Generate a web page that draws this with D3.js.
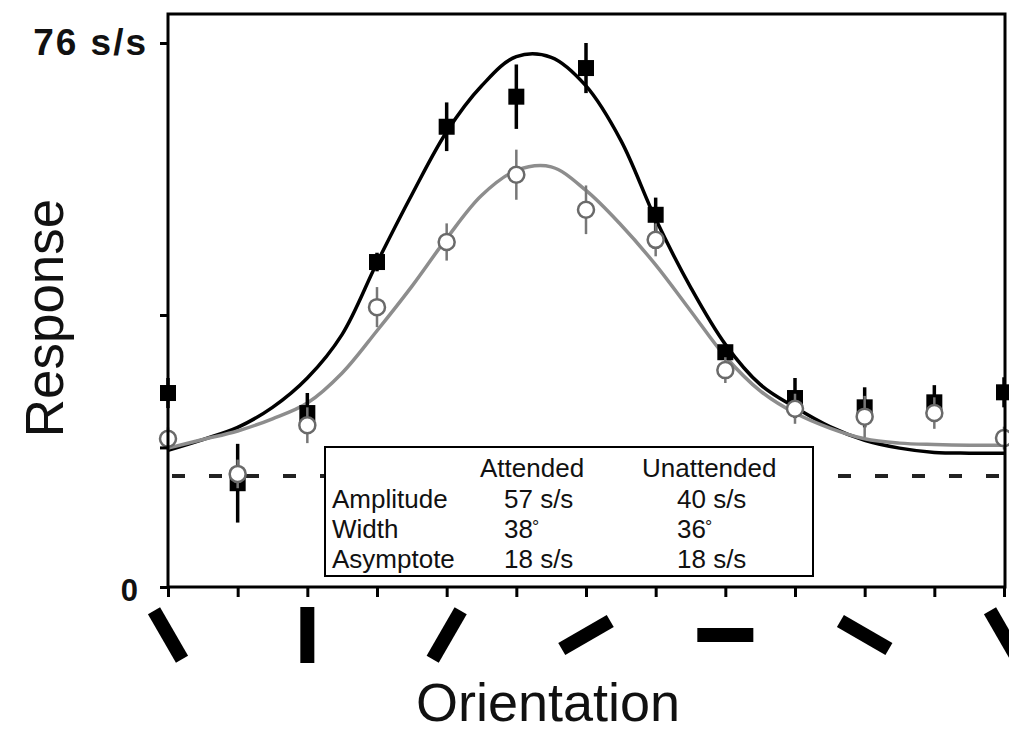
<!DOCTYPE html>
<html>
<head>
<meta charset="utf-8">
<script src="https://cdn.jsdelivr.net/npm/d3@7"></script>
<style>
  body { margin: 0; background: #fff; }
  text { font-family: 'Liberation Sans', Arial, sans-serif; fill: #111; }
</style>
</head>
<body>
<script>
// stimulus orientations (deg) and mean responses (spikes/s)
var orientations = [0, 15, 30, 45, 60, 75, 90, 105, 120, 135, 150, 165, 180];
var attended = [27.1, 14.5, 24.3, 45.4, 64.3, 68.5, 72.5, 52.0, 32.8, 26.4, 25.1, 25.8, 27.2];
var attendedErr = [2.1, 5.5, 2.8, 1.3, 3.4, 4.5, 3.5, 2.4, 1.0, 2.8, 2.8, 2.4, 2.1];
var unattended = [20.7, 15.8, 22.6, 39.1, 48.2, 57.6, 52.7, 48.5, 30.3, 24.9, 23.8, 24.3, 20.8];
var unattendedErr = [1.6, 2.0, 2.5, 2.8, 2.6, 3.5, 3.4, 2.3, 1.8, 2.1, 2.9, 2.2, 1.6];

// fitted tuning curves, every 7.5 deg
var fitOrientations = [0, 7.5, 15, 22.5, 30, 37.5, 45, 52.5, 60, 67.5, 75, 82.5, 90,
  97.5, 105, 112.5, 120, 127.5, 135, 142.5, 150, 157.5, 165, 172.5, 180];
var attendedFit = [19.1, 20.6, 22.3, 25.1, 29.2, 35.3, 45.3, 54.8, 63.6, 70.0, 74.1, 74.0, 70.0,
  62.4, 51.4, 41.9, 33.9, 28.3, 25.1, 22.4, 20.5, 19.4, 18.8, 18.7, 18.7];
var unattendedFit = [19.4, 20.6, 21.8, 23.5, 25.7, 29.9, 35.8, 42.0, 48.7, 54.7, 58.2, 58.7, 55.4,
  50.6, 45.0, 38.6, 32.2, 27.4, 24.3, 22.2, 20.7, 20.1, 19.9, 19.8, 19.8];

var spontaneous = 15.5;
var yTicks = [0, 19.5, 38, 76];
var stimulusBars = [0, 30, 60, 90, 120, 150, 180];

var legendRows = ['Amplitude', 'Width', 'Asymptote'];
var legendCols = ['Attended', 'Unattended'];
var attendedParams = ['57 s/s', '38', '18 s/s'];
var unattendedParams = ['40 s/s', '36', '18 s/s'];

var width = 1009, height = 734;

var svg = d3.select('body')
  .append('svg')
    .attr('width', width)
    .attr('height', height);

var x = d3.scaleLinear()
    .domain([0, 180])
    .range([168, 1004]);

var y = d3.scaleLinear()
    .domain([0, 76])
    .range([587, 43]);

// dashed spontaneous level (mostly hidden behind the legend box)
svg.append('line')
    .attr('x1', x(0) + 4)
    .attr('x2', x(180))
    .attr('y1', y(spontaneous))
    .attr('y2', y(spontaneous))
    .attr('stroke', '#222')
    .attr('stroke-width', 4)
    .attr('stroke-dasharray', '13,24');

// fitted curves
var line = d3.line()
    .x(function(d) { return x(d[0]); })
    .y(function(d) { return y(d[1]); })
    .curve(d3.curveCatmullRom);

svg.append('path')
    .datum(d3.zip(fitOrientations, attendedFit))
    .attr('d', line)
    .attr('fill', 'none')
    .attr('stroke', '#000')
    .attr('stroke-width', 3.5);

svg.append('path')
    .datum(d3.zip(fitOrientations, unattendedFit))
    .attr('d', line)
    .attr('fill', 'none')
    .attr('stroke', '#8d8d8d')
    .attr('stroke-width', 3.5);

// attended: filled squares
var att = svg.append('g')
  .selectAll('g')
  .data(d3.zip(orientations, attended, attendedErr))
  .enter().append('g');

att.append('line')
    .attr('x1', function(d) { return x(d[0]); })
    .attr('x2', function(d) { return x(d[0]); })
    .attr('y1', function(d) { return y(d[1] - d[2]); })
    .attr('y2', function(d) { return y(d[1] + d[2]); })
    .attr('stroke', '#000')
    .attr('stroke-width', 3.5);

att.append('rect')
    .attr('x', function(d) { return x(d[0]) - 8; })
    .attr('y', function(d) { return y(d[1]) - 8; })
    .attr('width', 16)
    .attr('height', 16)
    .attr('fill', '#000');

// unattended: open circles
var unatt = svg.append('g')
  .selectAll('g')
  .data(d3.zip(orientations, unattended, unattendedErr))
  .enter().append('g');

unatt.append('line')
    .attr('x1', function(d) { return x(d[0]); })
    .attr('x2', function(d) { return x(d[0]); })
    .attr('y1', function(d) { return y(d[1] - d[2]); })
    .attr('y2', function(d) { return y(d[1] + d[2]); })
    .attr('stroke', '#777')
    .attr('stroke-width', 2.5);

unatt.append('circle')
    .attr('cx', function(d) { return x(d[0]); })
    .attr('cy', function(d) { return y(d[1]); })
    .attr('r', 8)
    .attr('fill', '#fff')
    .attr('stroke', '#6a6a6a')
    .attr('stroke-width', 2.5);

// legend box
var legend = svg.append('g');

legend.append('rect')
    .attr('x', 325)
    .attr('y', 447)
    .attr('width', 488)
    .attr('height', 129)
    .attr('fill', '#fff')
    .attr('stroke', '#000')
    .attr('stroke-width', 2);

legend.selectAll('.colhead')
  .data(legendCols)
  .enter().append('text')
    .attr('class', 'colhead')
    .attr('x', function(d, i) { return [480, 642][i]; })
    .attr('y', 477)
    .attr('font-size', 26)
    .text(function(d) { return d; });

legend.selectAll('.rowhead')
  .data(legendRows)
  .enter().append('text')
    .attr('class', 'rowhead')
    .attr('x', 332)
    .attr('y', function(d, i) { return 508 + i * 30; })
    .attr('font-size', 26)
    .text(function(d) { return d; });

[attendedParams, unattendedParams].forEach(function(params, c) {
  var t = legend.selectAll('.val' + c)
    .data(params)
    .enter().append('text')
      .attr('class', 'val' + c)
      .attr('x', [504, 677][c])
      .attr('y', function(d, i) { return 508 + i * 30; })
      .attr('font-size', 26)
      .text(function(d) { return d; });
  // raised degree sign on the width row
  t.filter(function(d, i) { return i === 1; })
    .append('tspan')
      .attr('dx', -1)
      .attr('dy', -5)
      .attr('font-size', 18)
      .text('°');
});

// frame and axes
svg.append('rect')
    .attr('x', 168)
    .attr('y', 14)
    .attr('width', 837)
    .attr('height', 573)
    .attr('fill', 'none')
    .attr('stroke', '#000')
    .attr('stroke-width', 3);

var yAxis = svg.append('g')
    .attr('transform', 'translate(168,0)')
    .call(d3.axisLeft(y)
      .tickValues(yTicks)
      .tickSize(8)
      .tickPadding(12)
      .tickFormat(function(d) { return d === 76 ? '76 s/s' : d === 0 ? '0' : ''; }));

yAxis.select('.domain').remove();
yAxis.selectAll('line').attr('stroke', '#000').attr('stroke-width', 3);
yAxis.selectAll('text')
    .attr('fill', '#111')
    .attr('font-family', "'Liberation Sans', Arial, sans-serif")
    .attr('font-weight', 'bold')
    .attr('font-size', function(d) { return d === 76 ? 37 : 31; })
    .attr('letter-spacing', function(d) { return d === 76 ? 2 : 0; })
    .attr('dx', function(d) { return d === 0 ? -10 : 0; })
    .attr('dy', function(d) { return d === 0 ? '0.42em' : '0.3em'; });

var xAxis = svg.append('g')
    .attr('transform', 'translate(0,587)')
    .call(d3.axisBottom(x)
      .tickValues(orientations)
      .tickSize(10)
      .tickFormat(''));

xAxis.select('.domain').remove();
xAxis.selectAll('line').attr('stroke', '#000').attr('stroke-width', 3);

// oriented bars showing the stimulus under the axis
svg.append('g')
  .selectAll('rect')
  .data(stimulusBars)
  .enter().append('rect')
    .attr('x', -7)
    .attr('y', -28)
    .attr('width', 14)
    .attr('height', 56)
    .attr('fill', '#000')
    .attr('transform', function(d) { return 'translate(' + x(d) + ',635) rotate(' + (d - 30) + ')'; });

// axis titles
svg.append('text')
    .attr('transform', 'translate(63,318) rotate(-90)')
    .attr('text-anchor', 'middle')
    .attr('font-size', 53)
    .text('Response');

svg.append('text')
    .attr('x', 548)
    .attr('y', 721)
    .attr('text-anchor', 'middle')
    .attr('font-size', 54)
    .text('Orientation');
</script>
</body>
</html>
